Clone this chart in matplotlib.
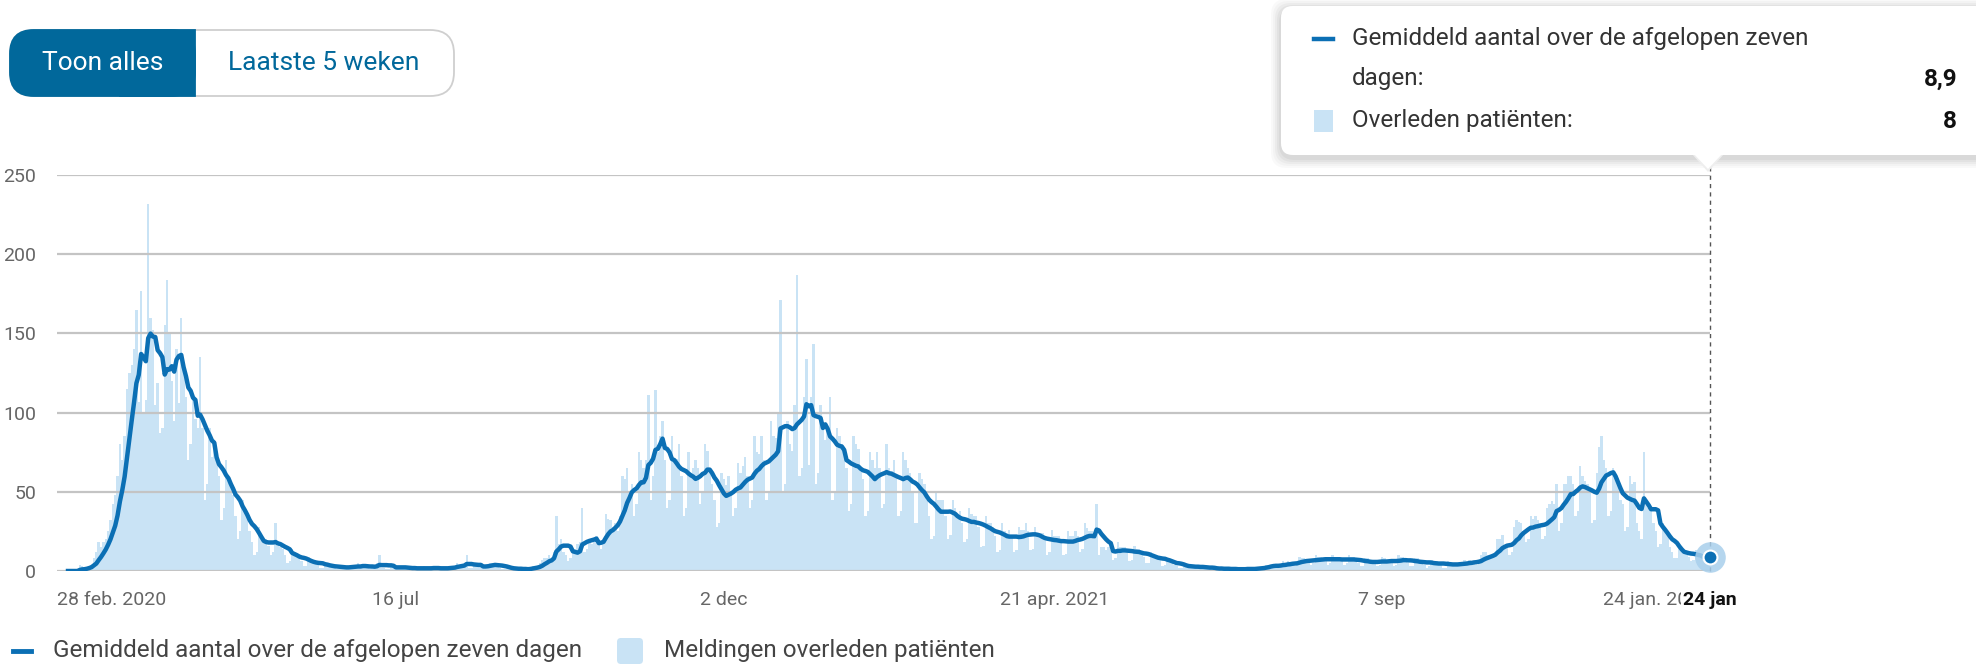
import numpy as np
import pandas as pd
import matplotlib
matplotlib.use("Agg")
import matplotlib.pyplot as plt
import matplotlib.dates as mdates
from matplotlib import font_manager
from matplotlib.patches import FancyBboxPatch, Rectangle, Polygon

# ---------------- data ----------------
start_date = "2020-02-28"

deaths_mar_jul_2020 = [
    0, 0, 0, 0, 0, 4, 3,
    1, 2, 3, 4, 8, 12, 18,
    15, 18, 20, 25, 32, 42, 48,
    60, 80, 70, 85, 115, 125, 130,
    140, 165, 107, 177, 100, 108, 232,
    160, 152, 105, 119, 87, 90, 155,
    184, 150, 120, 95, 140, 106, 160,
    130, 110, 70, 80, 110, 96, 90,
    135, 90, 45, 55, 90, 72, 80,
    70, 60, 32, 40, 70, 58, 55,
    48, 35, 20, 25, 45, 40, 35,
    25, 18, 10, 12, 28, 22, 18,
    20, 16, 10, 12, 30, 16, 15,
    14, 10, 5, 6, 14, 11, 10,
    8, 6, 3, 3, 9, 6, 6,
    5, 4, 2, 2, 5, 4, 3,
    3, 2, 1, 1, 4, 3, 2,
    3, 3, 2, 2, 5, 3, 4,
    3, 2, 1, 2, 4, 5, 10,
    2, 2, 1, 1, 4, 3, 3,
]
deaths_jul_dec_2020 = [
    2, 2, 1, 1, 3, 2, 2,
    2, 1, 1, 1, 3, 2, 2,
    2, 2, 1, 1, 2, 2, 2,
    2, 3, 2, 2, 5, 4, 4,
    4, 10, 2, 2, 3, 3, 3,
    4, 3, 2, 3, 5, 5, 5,
    3, 2, 1, 1, 3, 2, 2,
    1, 1, 0, 1, 2, 2, 1,
    2, 3, 2, 3, 5, 7, 8,
    8, 10, 6, 12, 35, 17, 20,
    12, 10, 6, 8, 14, 14, 17,
    18, 40, 12, 14, 18, 17, 20,
    22, 20, 14, 18, 36, 33, 32,
    28, 30, 25, 35, 60, 58, 65,
    50, 55, 35, 42, 75, 70, 65,
    70, 111, 45, 60, 114, 75, 85,
    95, 70, 40, 45, 85, 70, 71,
    80, 60, 35, 40, 75, 62, 65,
    70, 65, 42, 50, 80, 76, 65,
    55, 45, 28, 30, 62, 58, 54,
]
deaths_dec_2020_apr_2021 = [
    60, 50, 35, 40, 68, 62, 66,
    72, 60, 40, 45, 85, 75, 74,
    85, 70, 45, 50, 95, 85, 84,
    100, 171, 50, 55, 95, 80, 76,
    105, 187, 60, 65, 110, 134, 67,
    110, 143, 55, 62, 105, 90, 83,
    90, 110, 45, 50, 90, 85, 80,
    75, 65, 38, 42, 85, 80, 77,
    65, 58, 35, 38, 75, 70, 65,
    75, 65, 40, 42, 80, 65, 63,
    70, 60, 35, 38, 75, 70, 65,
    62, 50, 30, 30, 62, 58, 55,
    45, 35, 20, 22, 50, 45, 45,
    45, 35, 20, 23, 45, 40, 35,
    38, 30, 18, 20, 40, 36, 35,
    35, 28, 15, 16, 35, 30, 30,
    28, 22, 12, 13, 30, 25, 24,
    26, 22, 12, 13, 28, 26, 26,
    30, 25, 13, 14, 28, 24, 23,
    24, 20, 10, 12, 26, 22, 22,
]
deaths_apr_sep_2021 = [
    22, 18, 10, 11, 25, 22, 22,
    25, 22, 12, 14, 30, 27, 25,
    25, 20, 42, 10, 15, 15, 13,
    15, 13, 7, 8, 18, 15, 15,
    15, 12, 6, 7, 16, 14, 14,
    12, 9, 5, 5, 12, 10, 10,
    8, 7, 3, 4, 8, 7, 6,
    4, 3, 2, 2, 5, 3, 3,
    3, 2, 1, 2, 4, 3, 2,
    2, 1, 1, 1, 2, 2, 2,
    1, 1, 1, 0, 2, 2, 1,
    1, 1, 1, 1, 2, 2, 1,
    2, 2, 2, 2, 4, 4, 4,
    4, 3, 2, 3, 6, 5, 6,
    5, 5, 3, 4, 9, 8, 8,
    7, 6, 4, 5, 10, 9, 9,
    8, 7, 4, 5, 10, 9, 9,
    8, 6, 4, 5, 10, 9, 9,
    7, 5, 3, 3, 8, 8, 7,
    6, 5, 3, 4, 9, 8, 7,
]
deaths_sep_2021_jan_2022 = [
    7, 6, 3, 4, 10, 9, 9,
    7, 5, 3, 3, 8, 8, 7,
    6, 4, 2, 3, 7, 6, 6,
    5, 4, 2, 2, 6, 5, 5,
    5, 4, 3, 3, 7, 6, 7,
    6, 6, 4, 5, 10, 12, 12,
    10, 10, 8, 10, 20, 20, 23,
    16, 15, 10, 12, 28, 32, 31,
    30, 25, 18, 20, 35, 33, 35,
    32, 28, 20, 22, 40, 42, 44,
    42, 55, 25, 30, 55, 55, 60,
    60, 55, 35, 38, 66, 60, 57,
    55, 50, 30, 32, 62, 78, 85,
    70, 65, 35, 38, 65, 60, 59,
    45, 42, 25, 28, 60, 55, 56,
    30, 25, 20, 75, 45, 40, 38,
    30, 25, 15, 17, 30, 27, 24,
    15, 12, 8, 8, 15, 14, 13,
    12, 9, 6, 7, 13, 11, 11,
    6, 5, 8, 8,
]

tick_dates = ["2020-02-28", "2020-07-16", "2020-12-02", "2021-04-21", "2021-09-07", "2022-01-24"]
tick_labels = ["28 feb. 2020", "16 jul", "2 dec", "21 apr. 2021", "7 sep", "24 jan. 2022"]
hover_label = "24 jan"
y_ticks = [0, 50, 100, 150, 200, 250]
legend_labels = ["Gemiddeld aantal over de afgelopen zeven dagen", "Meldingen overleden patiënten"]
tooltip_lines = ["Gemiddeld aantal over de afgelopen zeven", "dagen:", "Overleden patiënten:"]
button_labels = ["Toon alles", "Laatste 5 weken"]

deaths = (deaths_mar_jul_2020 + deaths_jul_dec_2020 + deaths_dec_2020_apr_2021
          + deaths_apr_sep_2021 + deaths_sep_2021_jan_2022)

# ---------------- style ----------------
names = {f.name for f in font_manager.fontManager.ttflist}
if "Liberation Sans Narrow" in names:
    FONT = "Liberation Sans Narrow"
    FS_TICK, FS_LEG, FS_BTN = 17, 21, 23
else:
    FONT = "Roboto"
    FS_TICK, FS_LEG, FS_BTN = 14, 17.5, 19
plt.rcParams["font.family"] = [FONT, "DejaVu Sans"]

LINE = "#0b6fb4"
BAR = "#c9e3f5"
GRID = "#c4c4c4"
TICK = "#666666"
TEXT = "#444444"
DARKBLUE = "#01689b"

W, H = 1976, 671
fig = plt.figure(figsize=(W / 100, H / 100), dpi=100)
fig.patch.set_facecolor("white")


def fx(x):
    return x / W


def fy(y):
    return 1 - y / H


# ---------------- main axes ----------------
ax = fig.add_axes([fx(57), fy(571), fx(1710) - fx(57), fy(175) - fy(571)])
dates = pd.date_range(start_date, periods=len(deaths), freq="D")
xd = mdates.date2num(dates)
avg = pd.Series(deaths, dtype=float).rolling(7, min_periods=1).mean().values

ax.bar(xd, deaths, width=1.0, color=BAR, linewidth=0, zorder=1)
ax.plot(xd, avg, color=LINE, lw=3.2, solid_joinstyle="round", zorder=3)

px_per_day = (1710 - 68) / (xd[-1] - xd[0])
ax.set_xlim(xd[0] - (68 - 57) / px_per_day, xd[-1])
ax.set_ylim(0, 250)
ax.set_yticks(y_ticks)
ax.set_yticklabels([str(v) for v in y_ticks])
ax.yaxis.grid(True, color=GRID, lw=1.6, zorder=2)
ax.set_axisbelow(False)
ax.tick_params(axis="y", length=0, pad=15, labelcolor=TICK, labelsize=FS_TICK)
ax.set_xticks([])
for s in ax.spines.values():
    s.set_visible(False)
ax.patch.set_alpha(0)

# x labels (justified like the original)
xt = ax.get_xaxis_transform()
tick_nums = mdates.date2num(pd.to_datetime(tick_dates))
lab_y = -(600 - 571) / (571 - 175)
for i, (t, lab) in enumerate(zip(tick_nums, tick_labels)):
    if i == 0:
        ax.text(ax.get_xlim()[0], lab_y, lab, transform=xt, ha="left", va="center",
                color=TICK, fontsize=FS_TICK)
    elif i == len(tick_nums) - 1:
        ax.text(t, lab_y, lab, transform=xt, ha="right", va="center",
                color=TICK, fontsize=FS_TICK)
    else:
        ax.text(t, lab_y, lab, transform=xt, ha="center", va="center",
                color=TICK, fontsize=FS_TICK)
ax.text(xd[-1], lab_y, hover_label, transform=xt, ha="center", va="center",
        color="#111111", fontsize=FS_TICK, fontweight="bold",
        bbox=dict(facecolor="white", edgecolor="none", pad=1.5), zorder=5)

# hover line and marker
ax.plot([xd[-1], xd[-1]], [0, 1.02], transform=xt, color="#555555", lw=1,
        ls=(0, (3, 3)), clip_on=False, zorder=4)
ax.plot(xd[-1], avg[-1], "o", ms=22, color="#a8cfec", alpha=0.85, mew=0,
        clip_on=False, zorder=5)
ax.plot(xd[-1], avg[-1], "o", ms=10, color=LINE, mec="white", mew=1.5,
        clip_on=False, zorder=6)

# ---------------- buttons ----------------
bx0, bx1, bmid, by0, by1 = 10, 454, 195, 30, 96
fig.patches.append(FancyBboxPatch((fx(bx0), fy(by1)), fx(bx1) - fx(bx0), fy(by0) - fy(by1),
                                  boxstyle="round,pad=0,rounding_size=0.012",
                                  transform=fig.transFigure, facecolor="white",
                                  edgecolor="#cfcfcf", lw=1.3, mutation_aspect=W / H))
fig.patches.append(FancyBboxPatch((fx(bx0), fy(by1)), fx(bmid) - fx(bx0), fy(by0) - fy(by1),
                                  boxstyle="round,pad=0,rounding_size=0.012",
                                  transform=fig.transFigure, facecolor=DARKBLUE,
                                  edgecolor=DARKBLUE, lw=1.3, mutation_aspect=W / H))
fig.patches.append(Rectangle((fx(120), fy(by1)), fx(bmid) - fx(120), fy(by0) - fy(by1),
                             transform=fig.transFigure, facecolor=DARKBLUE,
                             edgecolor=DARKBLUE, lw=1.3))
fig.text(fx(103), fy(63), button_labels[0], ha="center", va="center", color="white",
         fontsize=FS_BTN)
fig.text(fx(324), fy(63), button_labels[1], ha="center", va="center", color=DARKBLUE,
         fontsize=FS_BTN)

# ---------------- tooltip ----------------
tx0, tx1, ty0, ty1 = 1281, 2000, 6, 155
for k, a in enumerate([0.025, 0.025, 0.03, 0.035, 0.04]):
    g = 10 - 2 * k
    fig.patches.append(FancyBboxPatch((fx(tx0 - g), fy(ty1 + g + 3)), fx(tx1 - tx0 + 2 * g),
                                      fy(ty0 - g + 3) - fy(ty1 + g + 3),
                                      boxstyle="round,pad=0,rounding_size=0.008",
                                      transform=fig.transFigure, facecolor="black",
                                      edgecolor="none", alpha=a, mutation_aspect=W / H))
fig.patches.append(Polygon([(fx(1692), fy(ty1 - 1)), (fx(1724), fy(ty1 - 1)), (fx(1708), fy(172))],
                           closed=True, transform=fig.transFigure, facecolor="#eeeeee",
                           edgecolor="none"))
fig.patches.append(Polygon([(fx(1694), fy(ty1 - 1)), (fx(1722), fy(ty1 - 1)), (fx(1708), fy(169))],
                           closed=True, transform=fig.transFigure, facecolor="white",
                           edgecolor="none"))
fig.patches.append(FancyBboxPatch((fx(tx0), fy(ty1)), fx(tx1) - fx(tx0), fy(ty0) - fy(ty1),
                                  boxstyle="round,pad=0,rounding_size=0.006",
                                  transform=fig.transFigure, facecolor="white",
                                  edgecolor="none", mutation_aspect=W / H))
fig.lines.append(plt.Line2D([fx(1314), fx(1333)], [fy(39), fy(39)], transform=fig.transFigure,
                            color=LINE, lw=3.2))
fig.text(fx(1352), fy(39), tooltip_lines[0], ha="left", va="center", color="#333333",
         fontsize=FS_LEG)
fig.text(fx(1352), fy(79), tooltip_lines[1], ha="left", va="center", color="#333333",
         fontsize=FS_LEG)
fig.text(fx(1957), fy(79), f"{avg[-1]:.1f}".replace(".", ","), ha="right", va="center",
         color="#111111", fontsize=FS_LEG, fontweight="bold")
fig.patches.append(Rectangle((fx(1314), fy(132)), fx(1333) - fx(1314), fy(110) - fy(132),
                             transform=fig.transFigure, facecolor=BAR, edgecolor="none"))
fig.text(fx(1352), fy(121), tooltip_lines[2], ha="left", va="center", color="#333333",
         fontsize=FS_LEG)
fig.text(fx(1957), fy(121), str(deaths[-1]), ha="right", va="center",
         color="#111111", fontsize=FS_LEG, fontweight="bold")

# ---------------- legend ----------------
fig.lines.append(plt.Line2D([fx(13), fx(31)], [fy(651), fy(651)], transform=fig.transFigure,
                            color=LINE, lw=3.5))
fig.text(fx(53), fy(651), legend_labels[0], ha="left", va="center", color=TEXT,
         fontsize=FS_LEG)
fig.patches.append(FancyBboxPatch((fx(617), fy(664)), fx(643) - fx(617), fy(638) - fy(664),
                                  boxstyle="round,pad=0,rounding_size=0.002",
                                  transform=fig.transFigure, facecolor=BAR, edgecolor="none",
                                  mutation_aspect=W / H))
fig.text(fx(664), fy(651), legend_labels[1], ha="left", va="center", color=TEXT,
         fontsize=FS_LEG)

fig.savefig("out.png", dpi=100, facecolor="white")
